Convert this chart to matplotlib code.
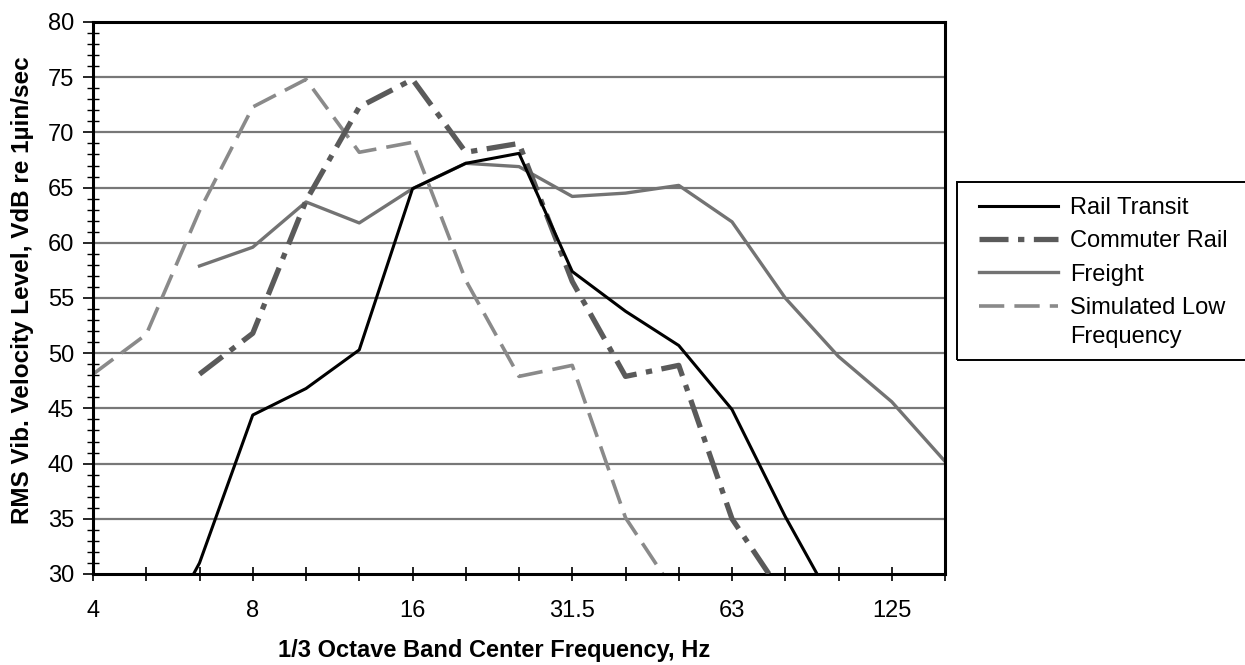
import numpy as np
import matplotlib.pyplot as plt
from matplotlib.ticker import MultipleLocator, FixedLocator
from matplotlib.legend_handler import HandlerLine2D
from matplotlib.patches import Rectangle

plt.rcParams['font.family'] = ['Liberation Sans', 'DejaVu Sans']

# 1/3 octave band centre frequencies, Hz
bands = ['4', '5', '6.3', '8', '10', '12.5', '16', '20', '25', '31.5',
         '40', '50', '63', '80', '100', '125', '160']
labelled = ['4', '8', '16', '31.5', '63', '125']

nan = np.nan
rail_transit = [nan, 22.0, 31.0, 44.4, 46.8, 50.3, 64.9, 67.2, 68.1, 57.4,
                53.8, 50.7, 44.9, 35.2, 26.5, nan, nan]
commuter_rail = [nan, nan, 48.1, 51.8, 63.8, 72.3, 74.8, 68.2, 69.0, 56.5,
                 47.9, 48.9, 35.0, 27.8, nan, nan, nan]
freight = [nan, nan, 57.9, 59.6, 63.7, 61.8, 64.9, 67.2, 66.9, 64.2,
           64.5, 65.2, 61.9, 55.0, 49.7, 45.6, 40.2]
simulated_low = [48.1, 51.7, 62.9, 72.3, 74.8, 68.2, 69.1, 56.6, 47.9, 48.9,
                 35.1, 27.8, nan, nan, nan, nan, nan]

x = np.arange(len(bands))


class FirstLineHandler(HandlerLine2D):
    # puts the legend sample next to the first line of a two-line label
    def __init__(self, shift, **kw):
        super().__init__(**kw)
        self.shift = shift

    def create_artists(self, legend, orig_handle, xdescent, ydescent,
                       width, height, fontsize, trans):
        artists = super().create_artists(legend, orig_handle, xdescent,
                                         ydescent, width, height, fontsize,
                                         trans)
        for a in artists:
            a.set_ydata(np.asarray(a.get_ydata()) + self.shift)
        return artists


fig = plt.figure(figsize=(12.45, 6.65), dpi=100)
ax = fig.add_axes([93 / 1245, 91 / 665, 852 / 1245, 552 / 665])

for y in range(35, 80, 5):
    ax.axhline(y, color='#777777', lw=1.6, zorder=1)

ax.plot(x, rail_transit, color='black', lw=2.2, label='Rail Transit', zorder=4)
ax.plot(x, commuter_rail, color='#5a5a5a', lw=3.8,
        linestyle=(0, (5.5, 1.8, 1.2, 1.8)), label='Commuter Rail', zorder=3)
ax.plot(x, freight, color='#737373', lw=2.4, label='Freight', zorder=2)
sim_line, = ax.plot(x, simulated_low, color='#8a8a8a', lw=2.6,
                    linestyle=(0, (7, 2.8)), label='Simulated Low\nFrequency',
                    zorder=2)

ax.set_xlim(0, len(bands) - 1)
ax.set_ylim(30, 80)

ax.xaxis.set_major_locator(FixedLocator(x))
ax.set_xticklabels([b if b in labelled else '' for b in bands])
ax.tick_params(axis='x', direction='inout', length=10, width=1.2,
               labelsize=17, pad=14)
ax.yaxis.set_major_locator(MultipleLocator(5))
ax.yaxis.set_minor_locator(MultipleLocator(1))
ax.tick_params(axis='y', which='major', direction='out', length=7, width=1.2,
               labelsize=17, pad=6.5)
ax.tick_params(axis='y', which='minor', direction='inout', length=8, width=1.0)

for side in ax.spines.values():
    side.set_linewidth(2.2)
    side.set_color('black')

fig.text(23 / 1245, (665 - 290) / 665,
         'RMS Vib. Velocity Level, VdB re 1µin/sec', fontsize=17.5,
         fontweight='bold', rotation=90, ha='center', va='center')
fig.text(494 / 1245, 14 / 665, '1/3 Octave Band Center Frequency, Hz',
         fontsize=17, fontweight='bold', ha='center', va='center')

leg_size = 17
line_gap = 1.4
leg = ax.legend(loc='upper left', bbox_to_anchor=(979 / 1245, (665 - 197) / 665),
                bbox_transform=fig.transFigure, fontsize=leg_size,
                frameon=False, borderaxespad=0, borderpad=0,
                handlelength=3.35, labelspacing=0.48, handletextpad=0.5,
                handler_map={sim_line: FirstLineHandler(0.5 * line_gap * leg_size)})
leg.get_texts()[3].set_linespacing(line_gap)

# legend box, open on the right where it runs off the figure
fig.add_artist(Rectangle((957 / 1245, (665 - 360) / 665), 300 / 1245,
                         178 / 665, transform=fig.transFigure, fill=False,
                         edgecolor='black', linewidth=1.4))

fig.savefig('out.png', dpi=100)
